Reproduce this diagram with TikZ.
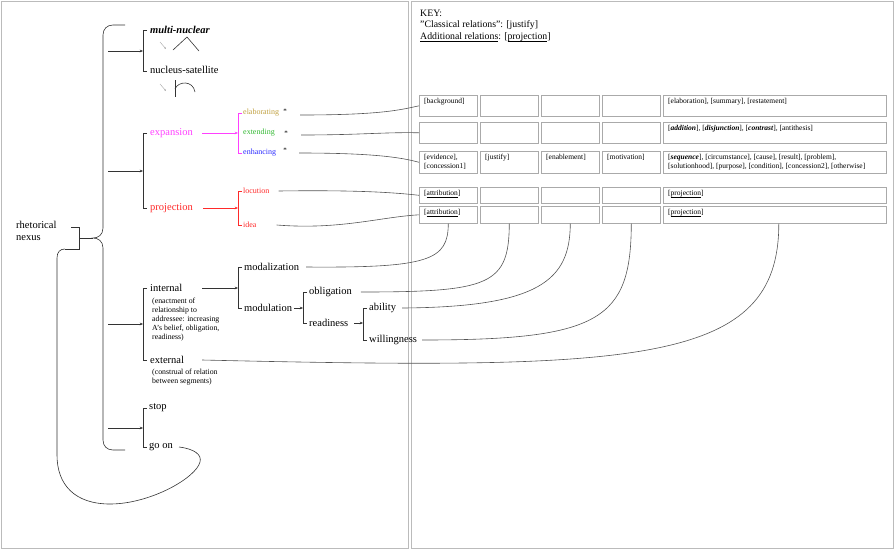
\documentclass[tikz,border=0pt]{standalone}
\usepackage{fontspec}
\setmainfont{Liberation Serif}
\usetikzlibrary{arrows.meta}
\definecolor{elabc}{HTML}{C0A040}
\definecolor{extc}{HTML}{33B833}
\definecolor{enhc}{HTML}{2B2BFF}
\definecolor{expc}{HTML}{FF40FF}
\definecolor{projc}{HTML}{FF2A2A}
\definecolor{brk}{HTML}{333333}
\definecolor{connc}{HTML}{555555}
\definecolor{panelc}{HTML}{BBBBBB}
\definecolor{cellc}{HTML}{AAAAAA}
\newcommand{\uln}[1]{\underline{\smash{#1}}}
\tikzset{
 lab/.style={inner sep=0pt, anchor=west, font=\fontsize{10.5}{12}\selectfont},
 small/.style={inner sep=0pt, anchor=west, font=\fontsize{8}{9.5}\selectfont},
 desc/.style={inner sep=0pt, anchor=north west, align=left, font=\fontsize{7.8}{9}\selectfont},
 keytext/.style={inner sep=0pt, anchor=west, font=\fontsize{9.8}{12}\selectfont},
 cell/.style={draw=cellc, line width=0.6pt, inner sep=0pt, anchor=north west, minimum width=58pt},
 widecell/.style={cell, minimum width=223pt},
 celltext/.style={inner sep=0pt, anchor=north west, align=left, font=\fontsize{7.5}{9}\selectfont},
 br/.style={draw=brk, line width=0.6pt},
 arr/.style={draw=brk, line width=0.6pt, -{Stealth[length=3.2pt,width=2.6pt]}},
 conn/.style={draw=connc, line width=0.6pt},
 panel/.style={draw=panelc, line width=0.8pt},
 tinyarr/.style={draw=gray!70, line width=0.4pt, -{Stealth[length=2pt,width=1.6pt]}},
 star/.style={inner sep=0pt, font=\fontsize{7}{8}\selectfont}
}
\begin{document}
\begin{tikzpicture}[x=1pt,y=-1pt]
\useasboundingbox (0,0) rectangle (895,550);
\draw[panel] (1.5,1.5) rectangle (408,548.5);
\draw[panel] (411,1.5) rectangle (893.5,548.5);

% key
\node[keytext] (k1) at (420,13) {KEY:};
\node[keytext] (k2) at (420,25) {"Classical relations": [justify]};
\node[keytext] (k3) at (420,37) {\uln{Additional relations}: [\uln{projection}]};

% table
\foreach \r/\y/\h in {1/95/21,2/122/21,3/151/22,4/187/16,5/206/17}{
  \node[cell, minimum height=\h pt] (c\r1) at (419,\y) {};
  \node[cell, minimum height=\h pt] (c\r2) at (480,\y) {};
  \node[cell, minimum height=\h pt] (c\r3) at (541,\y) {};
  \node[cell, minimum height=\h pt] (c\r4) at (602,\y) {};
  \node[widecell, minimum height=\h pt] (c\r5) at (663,\y) {};
}
\node[celltext] (t11) at ([shift={(5pt,-3pt)}]c11.north west) {[background]};
\node[celltext] (t15) at ([shift={(5pt,-3pt)}]c15.north west) {[elaboration], [summary], [restatement]};
\node[celltext] (t25) at ([shift={(5pt,-3pt)}]c25.north west) {[\textbf{\textit{addition}}], [\textbf{\textit{disjunction}}], [\textbf{\textit{contrast}}], [antithesis]};
\node[celltext] (t31) at ([shift={(5pt,-3pt)}]c31.north west) {[evidence],\\\relax[concession1]};
\node[celltext] (t32) at ([shift={(5pt,-3pt)}]c32.north west) {[justify]};
\node[celltext] (t33) at ([shift={(5pt,-3pt)}]c33.north west) {[enablement]};
\node[celltext] (t34) at ([shift={(5pt,-3pt)}]c34.north west) {[motivation]};
\node[celltext] (t35) at ([shift={(5pt,-3pt)}]c35.north west) {[\textbf{\textit{sequence}}], [circumstance], [cause], [result], [problem],\\\relax[solutionhood], [purpose], [condition], [concession2], [otherwise]};
\node[celltext] (t41) at ([shift={(5pt,-3pt)}]c41.north west) {[\uln{attribution}]};
\node[celltext] (t45) at ([shift={(5pt,-3pt)}]c45.north west) {[\uln{projection}]};
\node[celltext] (t51) at ([shift={(5pt,-3pt)}]c51.north west) {[\uln{attribution}]};
\node[celltext] (t55) at ([shift={(5pt,-3pt)}]c55.north west) {[\uln{projection}]};

% rhetorical nexus and brace
\node[lab, align=left] (rn) at (16,231) {rhetorical\\nexus};
\coordinate (tip) at (93,238);
\draw[br] (71,227) -- (79,227) -- (79,249) -- (65,249);
\draw[br] (79,238) -- (tip);
\draw[br] (125,25) -- (113,25) .. controls (107,25) and (103,29) .. (103,35)
  -- (103,228) .. controls (103,235) and (98,238) .. (tip)
  .. controls (98,238) and (103,241) .. (103,248)
  -- (103,440) .. controls (103,446) and (107,450) .. (113,450) -- (125,450);

% branch 1
\coordinate (b1) at (143,51);
\draw[arr] (108,51) -- (b1);
\draw[br] (147,30) -- (143,30) -- (143,71) -- (147,71);
\node[lab] (mn) at (150,30) {\textbf{\textit{multi-nuclear}}};
\node[lab] (ns) at (150,70) {nucleus-satellite};
\draw[tinyarr] (160,42) -- (166,49);
\draw[br] (173,50) -- (187,37) -- (199,51);
\draw[tinyarr] (160,84) -- (166,91);
\draw[br] (175,80) -- (175,97);
\draw[br] (175,89) .. controls (178,81) and (193,80) .. (195,92);

% branch 2
\coordinate (b2) at (143,171);
\draw[arr] (108,171) -- (b2);
\draw[br] (147,133) -- (143,133) -- (143,208) -- (147,208);
\node[lab, text=expc] (exp) at (150,133) {expansion};
\node[lab, text=projc] (proj) at (150,208) {projection};
\coordinate (expb) at (238,133);
\coordinate (projb) at (238,208);
\draw[arr, draw=expc] (202,133) -- (expb);
\draw[arr, draw=projc] (203,208) -- (projb);
\draw[br, draw=expc] (242,113) -- (238,113) -- (238,153) -- (242,153);
\draw[br, draw=projc] (242,191) -- (238,191) -- (238,225) -- (242,225);
\node[small, text=elabc] (elab) at (243,113) {elaborating};
\node[small, text=extc] (ext) at (243,133) {extending};
\node[small, text=enhc] (enh) at (243,153) {enhancing};
\node[small, text=projc] (loc) at (243,191) {locution};
\node[small, text=projc] (idea) at (243,225) {idea};
\node[star] (s1) at (285,111) {*};
\node[star] (s2) at (286,133) {*};
\node[star] (s3) at (285,150) {*};
\coordinate (e1) at (300,115);
\coordinate (e2) at (301,135);
\coordinate (e3) at (299,153);
\coordinate (e4) at ([xshift=9pt]loc.east);
\coordinate (e5) at ([xshift=20pt]idea.east);
\draw[conn] (e1) .. controls (380,115) and (400,110) .. (c11.west);
\draw[conn] (e2) .. controls (360,135) and (385,132) .. (c21.west);
\draw[conn] (e3) .. controls (370,153) and (400,157) .. (c31.west);
\draw[conn] (e4) .. controls (350,190) and (390,192) .. (c41.west);
\draw[conn] (e5) .. controls (340,230) and (380,217) .. (c51.west);

% branch 3
\coordinate (b3) at (143,324);
\draw[arr] (108,324) -- (b3);
\draw[br] (147,288) -- (143,288) -- (143,360) -- (147,360);
\node[lab] (int) at (150,288) {internal};
\node[desc] (intd) at (152,297.5) {(enactment of\\relationship to\\addressee: increasing\\A's belief, obligation,\\readiness)};
\node[lab] (ext2) at (150,360) {external};
\node[desc] (extd) at (152,368.5) {(construal of relation\\between segments)};
\coordinate (intb) at (238,288);
\draw[arr] (202,288) -- (intb);
\draw[br] (242,267) -- (238,267) -- (238,308) -- (242,308);
\node[lab] (modz) at (244,267) {modalization};
\node[lab] (modu) at (244,308) {modulation};
\coordinate (modb) at (303,308);
\draw[arr] ([xshift=2pt]modu.east) -- (modb);
\draw[br] (307,292) -- (303,292) -- (303,323) -- (307,323);
\node[lab] (obl) at (309,292) {obligation};
\node[lab] (rdy) at (309,323) {readiness};
\coordinate (rdyb) at (363,323);
\draw[arr] ([xshift=6pt]rdy.east) -- (rdyb);
\draw[br] (367,308) -- (363,308) -- (363,340) -- (367,340);
\node[lab] (abl) at (369,308) {ability};
\node[lab] (wil) at (369,340) {willingness};

\draw[conn] ([xshift=7pt]modz.east) .. controls (430,268) and (448,260) .. (c51.south);
\draw[conn] ([xshift=9pt]obl.east) .. controls (490,292) and (509,285) .. (c52.south);
\draw[conn] ([xshift=6pt]abl.east) .. controls (540,307) and (570,280) .. (c53.south);
\draw[conn] ([xshift=5pt]wil.east) .. controls (600,340) and (631,320) .. (c54.south);
\draw[conn] ([xshift=18pt]ext2.east) .. controls (640,370) and (779,365) .. ([xshift=4pt]c55.south);

% branch 4
\coordinate (b4) at (143,428);
\draw[arr] (108,428) -- (b4);
\draw[br] (147,408) -- (143,408) -- (143,447) -- (147,447);
\node[lab] (stop) at (149,408) {stop};
\node[lab] (goon) at (149,447) {go on};
\draw[br] ([xshift=6pt]goon.east) .. controls (195,449) and (202,455) .. (200,462)
  .. controls (196,478) and (150,504) .. (110,504)
  .. controls (75,504) and (57,485) .. (57,455)
  -- (57,258) .. controls (57,252) and (60,249) .. (65,249);
\end{tikzpicture}
\end{document}
